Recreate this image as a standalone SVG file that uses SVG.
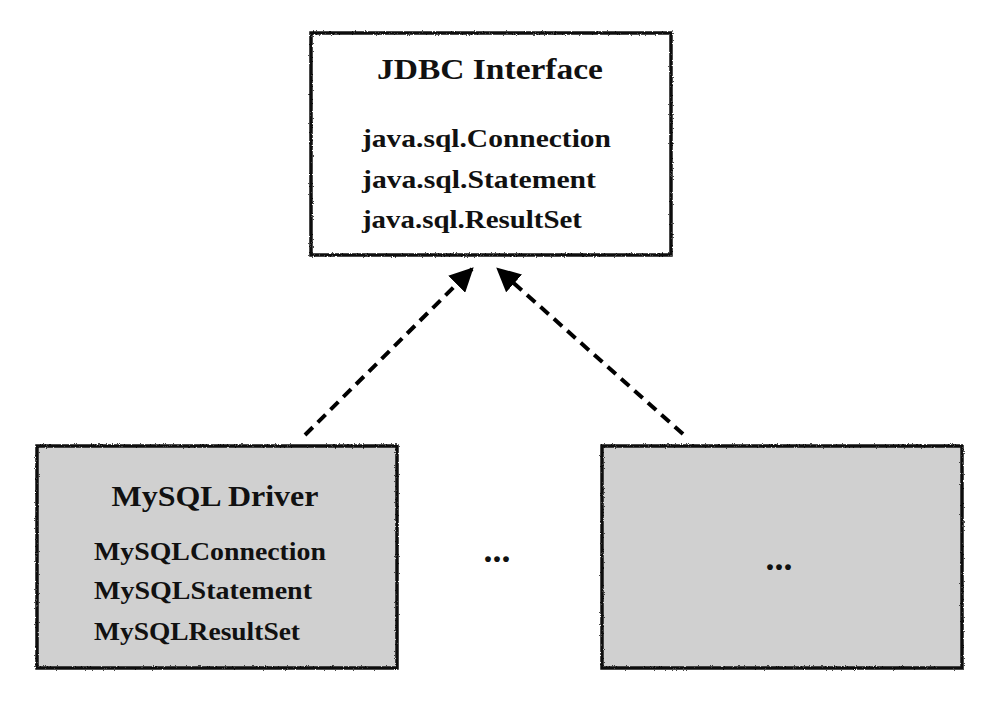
<svg xmlns="http://www.w3.org/2000/svg" width="1000" height="707" viewBox="0 0 1000 707">
<style>
.box{stroke:#111;stroke-width:3.5;filter:url(#rough)}
.white{fill:#fff}
.gray{fill:#d0d0d0}
.title{font-family:"Liberation Serif",serif;font-weight:bold;font-size:30px;fill:#111}
.item{font-family:"Liberation Serif",serif;font-weight:bold;font-size:25px;fill:#111}
.dots{font-family:"Liberation Serif",serif;font-weight:bold;font-size:36px;fill:#111}
.conn{stroke:#000;stroke-width:4;stroke-dasharray:11 7;fill:none}
</style>
<defs>
<filter id="rough" x="-5%" y="-5%" width="110%" height="110%">
<feTurbulence type="fractalNoise" baseFrequency="0.9" numOctaves="2" seed="3" result="n"/>
<feDisplacementMap in="SourceGraphic" in2="n" scale="2.5" xChannelSelector="R" yChannelSelector="G"/>
</filter>
<marker id="ah" viewBox="0 0 10 10" refX="9" refY="5" markerWidth="6" markerHeight="6" markerUnits="strokeWidth" orient="auto">
<path d="M0,0 L10,5 L0,10 z" fill="#000"/>
</marker>
</defs>
<rect width="1000" height="707" fill="#fff"/>
<g id="jdbc">
<rect class="box white" x="311" y="33" width="360" height="222"/>
<text class="title" x="490" y="79" text-anchor="middle" textLength="226" lengthAdjust="spacingAndGlyphs">JDBC Interface</text>
<text class="item" x="362" y="147" textLength="249" lengthAdjust="spacingAndGlyphs">java.sql.Connection</text>
<text class="item" x="362" y="188" textLength="234" lengthAdjust="spacingAndGlyphs">java.sql.Statement</text>
<text class="item" x="362" y="228" textLength="220" lengthAdjust="spacingAndGlyphs">java.sql.ResultSet</text>
</g>
<g id="mysql">
<rect class="box gray" x="37" y="446" width="360" height="222"/>
<text class="title" x="215" y="506" text-anchor="middle" textLength="207" lengthAdjust="spacingAndGlyphs">MySQL Driver</text>
<text class="item" x="94" y="560" textLength="232" lengthAdjust="spacingAndGlyphs">MySQLConnection</text>
<text class="item" x="94" y="599" textLength="218" lengthAdjust="spacingAndGlyphs">MySQLStatement</text>
<text class="item" x="94" y="640" textLength="206" lengthAdjust="spacingAndGlyphs">MySQLResultSet</text>
</g>
<g id="other">
<rect class="box gray" x="602" y="446" width="360" height="222"/>
<text class="dots" x="779" y="570" text-anchor="middle">...</text>
</g>
<g id="ellipsis">
<text class="dots" x="497" y="562" text-anchor="middle">...</text>
</g>
<g id="connectors">
<path class="conn" d="M305,435 L472,269" marker-end="url(#ah)"/>
<path class="conn" d="M683,434 L498,269" marker-end="url(#ah)"/>
</g>
</svg>
